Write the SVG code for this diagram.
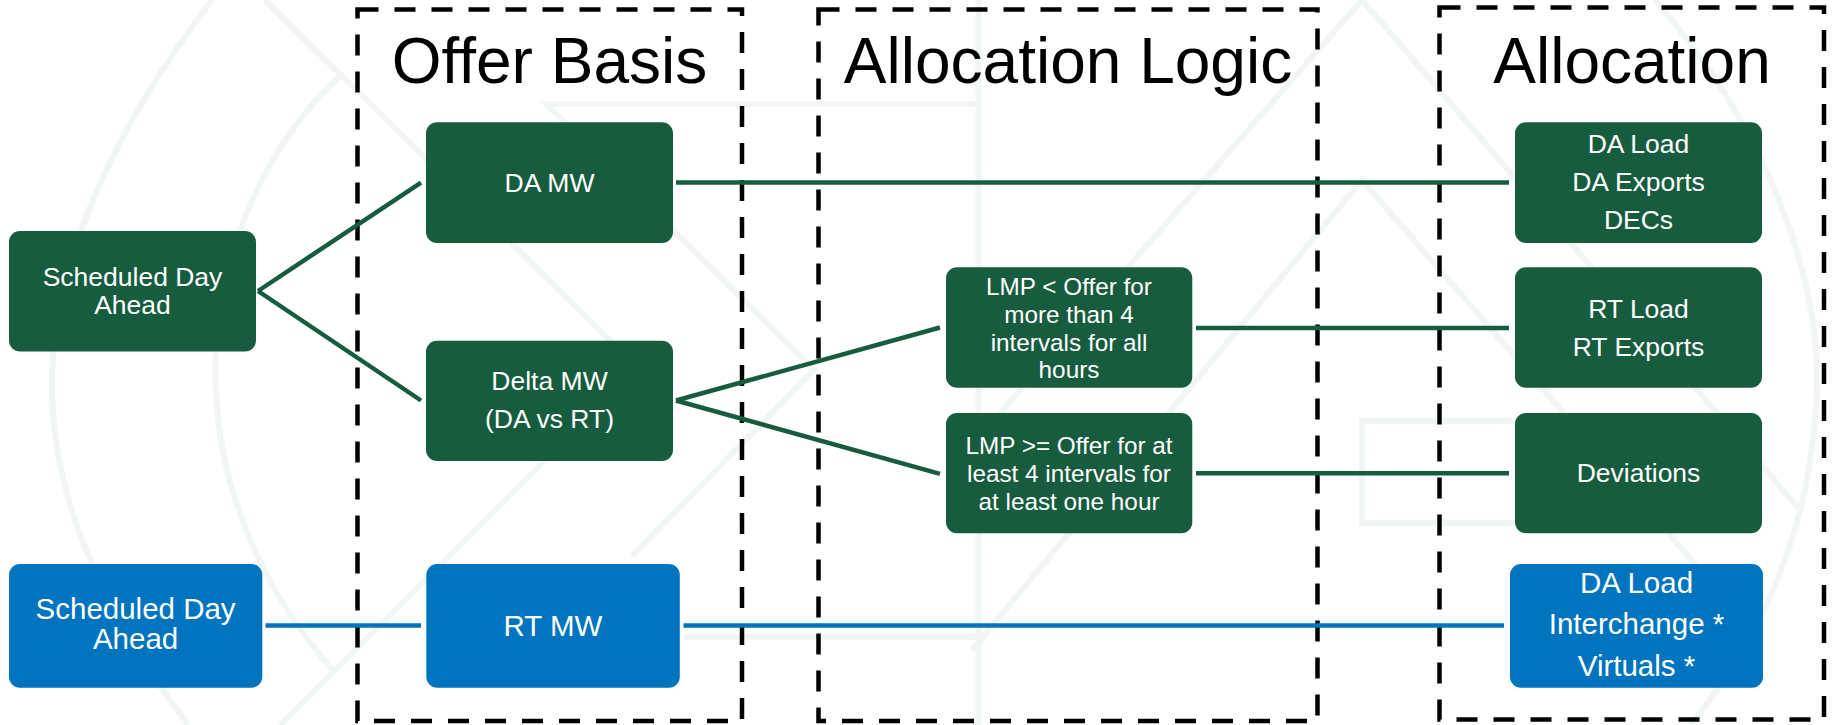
<svg xmlns="http://www.w3.org/2000/svg" width="1833" height="725" viewBox="0 0 1833 725">
<style>
.wm{fill:none;stroke:#f1f6f4;stroke-width:6}
.lane{fill:none;stroke:#000;stroke-width:4.5;stroke-dasharray:21 16}
.title{font-family:"Liberation Sans",Arial,sans-serif;font-size:64px;fill:#000;text-anchor:middle}
.g{fill:#175C3F}
.b{fill:#0074BE}
.t{font-family:"Liberation Sans",Arial,sans-serif;fill:#fff;text-anchor:middle}
.tg{font-size:26.5px}
.tb{font-size:29.5px}
.tl{font-size:24.3px}
.cg{stroke:#175C3F;stroke-width:4.5;fill:none}
.cb{stroke:#0074BE;stroke-width:4.5;fill:none}
</style>
<rect width="1833" height="725" fill="#fff"/>
<g id="watermark">
<path class="wm" d="M212 0 C120 120 50 260 52 390 C54 510 110 620 188 725"/>
<path class="wm" d="M340 76 C260 150 210 270 216 390 C220 500 270 600 333 670"/>
<path class="wm" d="M265 0 L638 368 L280 725"/>
<path class="wm" d="M978.5 104 L546 104 L814 370 L632 556"/>
<path class="wm" d="M978.5 0 L978.5 725"/>
<path class="wm" d="M684 637 L978.5 637"/>
<path class="wm" d="M979 437 L1362 0 L1800 510"/>
<path class="wm" d="M972 650 L1362 180 L1700 570"/>
<path class="wm" d="M1655 0 C1760 120 1830 280 1815 420 C1805 540 1760 640 1690 725"/>
<rect class="wm" x="1362" y="421" width="170" height="102"/>
</g>
<g id="lanes">
<rect class="lane" x="357.5" y="9.5" width="384.5" height="711.5"/>
<rect class="lane" x="818.5" y="9.5" width="499" height="711.5"/>
<rect class="lane" x="1439.5" y="7.5" width="384.5" height="712"/>
<text class="title" x="549.5" y="82.5">Offer Basis</text>
<text class="title" x="1068" y="82.5">Allocation Logic</text>
<text class="title" x="1632" y="82.5">Allocation</text>
</g>
<g id="connectors">
<line class="cg" x1="258" y1="291" x2="421" y2="182.6"/>
<line class="cg" x1="258" y1="291" x2="421" y2="400.5"/>
<line class="cg" x1="676" y1="182.6" x2="1509" y2="182.6"/>
<line class="cg" x1="676" y1="400.5" x2="940" y2="327.5"/>
<line class="cg" x1="676" y1="400.5" x2="940" y2="473.8"/>
<line class="cg" x1="1196" y1="328" x2="1509" y2="328"/>
<line class="cg" x1="1196" y1="473.3" x2="1509" y2="473.3"/>
<line class="cb" x1="265.5" y1="625.6" x2="421" y2="625.6"/>
<line class="cb" x1="683.5" y1="625.6" x2="1504" y2="625.6"/>
</g>
<g id="sda-green">
<rect class="g" x="9" y="231" width="247" height="120.5" rx="11"/>
<text class="t tg" x="132.5" y="286">Scheduled Day</text>
<text class="t tg" x="132.5" y="314">Ahead</text>
</g>
<g id="da-mw">
<rect class="g" x="426" y="122.3" width="247" height="120.7" rx="11"/>
<text class="t tg" x="549.5" y="191.5">DA MW</text>
</g>
<g id="delta-mw">
<rect class="g" x="426" y="340.7" width="247" height="120.3" rx="11"/>
<text class="t tg" x="549.5" y="390">Delta MW</text>
<text class="t tg" x="549.5" y="428">(DA vs RT)</text>
</g>
<g id="sda-blue">
<rect class="b" x="9" y="564" width="253.3" height="123.7" rx="11"/>
<text class="t tb" x="135.6" y="619.4">Scheduled Day</text>
<text class="t tb" x="135.6" y="649.4">Ahead</text>
</g>
<g id="rt-mw">
<rect class="b" x="426.3" y="564" width="253.5" height="123.7" rx="11"/>
<text class="t tb" x="553" y="636">RT MW</text>
</g>
<g id="lmp-lt">
<rect class="g" x="946" y="267.3" width="246.3" height="120.5" rx="11"/>
<text class="t tl" x="1069" y="294.5">LMP &lt; Offer for</text>
<text class="t tl" x="1069" y="322.5">more than 4</text>
<text class="t tl" x="1069" y="350.5">intervals for all</text>
<text class="t tl" x="1069" y="378">hours</text>
</g>
<g id="lmp-ge">
<rect class="g" x="946" y="413" width="246.3" height="120.3" rx="11"/>
<text class="t tl" x="1069" y="454.3">LMP &gt;= Offer for at</text>
<text class="t tl" x="1069" y="482">least 4 intervals for</text>
<text class="t tl" x="1069" y="509.7">at least one hour</text>
</g>
<g id="alloc-da">
<rect class="g" x="1515" y="122.3" width="247" height="120.7" rx="11"/>
<text class="t tg" x="1638.5" y="152.7">DA Load</text>
<text class="t tg" x="1638.5" y="190.6">DA Exports</text>
<text class="t tg" x="1638.5" y="228.5">DECs</text>
</g>
<g id="alloc-rt">
<rect class="g" x="1515" y="267.3" width="247" height="120.5" rx="11"/>
<text class="t tg" x="1638.5" y="317.5">RT Load</text>
<text class="t tg" x="1638.5" y="355.5">RT Exports</text>
</g>
<g id="alloc-dev">
<rect class="g" x="1515" y="413" width="247" height="120.3" rx="11"/>
<text class="t tg" x="1638.5" y="482.3">Deviations</text>
</g>
<g id="alloc-blue">
<rect class="b" x="1510" y="564" width="253" height="123.7" rx="11"/>
<text class="t tb" x="1636.5" y="592.8">DA Load</text>
<text class="t tb" x="1636.5" y="634.3">Interchange *</text>
<text class="t tb" x="1636.5" y="675.5">Virtuals *</text>
</g>
</svg>
